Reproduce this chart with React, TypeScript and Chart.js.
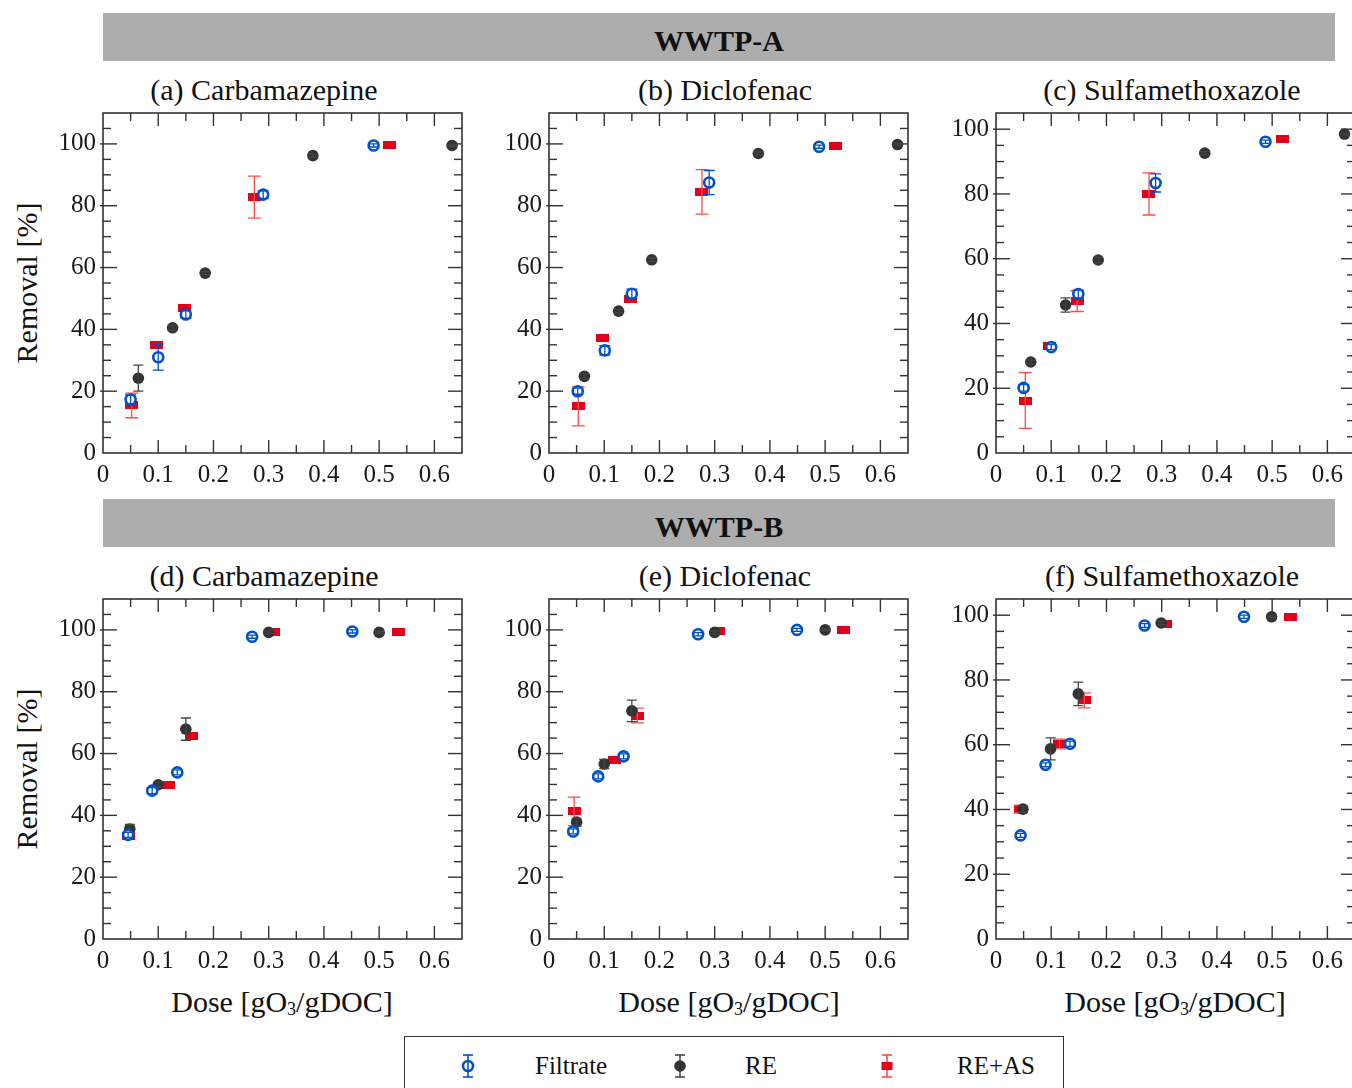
import React, { useEffect, useRef } from "react";
import { Chart, registerables } from "chart.js";
Chart.register(...registerables);

const SERIF = '"Liberation Serif", "Times New Roman", serif';

// ---------- ticks ----------
const xTickValues = [0, 0.1, 0.2, 0.3, 0.4, 0.5, 0.6];
const xMarkTicks = [0.05, 0.1, 0.15, 0.2, 0.25, 0.3, 0.35, 0.4, 0.45, 0.5, 0.55, 0.6];
const yTickValues = [0, 20, 40, 60, 80, 100];
const yMarkTicks = [5, 10, 15, 20, 25, 30, 35, 40, 45, 50, 55, 60, 65, 70, 75, 80, 85, 90, 95, 100, 105];

// ---------- data: [dose, removal, sd] ----------
// WWTP-A
const aCbzFiltrate = [[0.05, 17.3, 1.5], [0.1, 31.0, 4.2], [0.15, 44.8, 1.2], [0.29, 83.6, 1.2], [0.49, 99.5, 0.5]];
const aCbzRE = [[0.064, 24.2, 4.2], [0.126, 40.5, 0.8], [0.185, 58.2, 0.5], [0.38, 96.2, 0.5], [0.632, 99.5, 0.3]];
const aCbzREAS = [[0.052, 15.4, 4.0], [0.096, 35.1, 0], [0.148, 46.9, 0], [0.274, 82.8, 6.8], [0.519, 99.5, 0]];

const aDclFiltrate = [[0.052, 20.0, 1.0], [0.101, 33.2, 1.5], [0.15, 51.5, 1.5], [0.29, 87.5, 3.9], [0.489, 99.1, 0.5]];
const aDclRE = [[0.064, 24.8, 0.8], [0.126, 45.9, 0.5], [0.186, 62.5, 0.5], [0.379, 96.9, 0.5], [0.631, 99.8, 0.3]];
const aDclREAS = [[0.053, 15.1, 6.3], [0.096, 37.3, 0], [0.148, 49.7, 0], [0.277, 84.5, 7.2], [0.518, 99.4, 0]];

const aSmxFiltrate = [[0.05, 20.1, 1.0], [0.1, 32.7, 0.8], [0.149, 49.1, 1.2], [0.289, 83.4, 2.8], [0.488, 96.1, 0.5]];
const aSmxRE = [[0.063, 28.1, 0.6], [0.126, 45.7, 2.2], [0.185, 59.6, 0.8], [0.378, 92.6, 0.5], [0.631, 98.5, 0.3]];
const aSmxREAS = [[0.053, 16.2, 8.6], [0.096, 33.0, 0], [0.147, 46.9, 3.2], [0.277, 80.0, 6.5], [0.518, 96.9, 0]];

// WWTP-B
const bCbzFiltrate = [[0.0455, 33.7, 0.8], [0.089, 48.0, 1.0], [0.1345, 53.9, 0.8], [0.27, 97.8, 0.5], [0.4515, 99.5, 0.5]];
const bCbzRE = [[0.0485, 35.6, 1.5], [0.1, 49.9, 0.8], [0.15, 67.9, 3.6], [0.3, 99.2, 0.5], [0.5, 99.2, 0.3]];
const bCbzREAS = [[0.047, 33.2, 0], [0.118, 49.7, 0], [0.16, 65.7, 0], [0.308, 99.2, 0], [0.535, 99.2, 0]];

const bDclFiltrate = [[0.0438, 34.8, 0.8], [0.089, 52.6, 0.8], [0.135, 59.1, 0.8], [0.27, 98.6, 0.5], [0.449, 100.0, 0.5]];
const bDclRE = [[0.05, 37.8, 1.2], [0.1, 56.6, 1.5], [0.15, 73.8, 3.5], [0.3, 99.2, 0.5], [0.5, 100.0, 0.3]];
const bDclREAS = [[0.0456, 41.3, 4.6], [0.118, 58.0, 0], [0.16, 72.3, 2.4], [0.307, 99.5, 0], [0.533, 100.0, 0]];

const bSmxFiltrate = [[0.0445, 32.0, 0.6], [0.0897, 53.8, 0.6], [0.134, 60.3, 0.8], [0.269, 96.8, 0.6], [0.449, 99.5, 0.5]];
const bSmxRE = [[0.0487, 40.1, 1.0], [0.0988, 58.7, 3.4], [0.149, 75.7, 3.6], [0.299, 97.6, 0.5], [0.499, 99.5, 0.3]];
const bSmxREAS = [[0.044, 40.1, 1.2], [0.115, 60.2, 1.5], [0.16, 73.7, 2.3], [0.306, 97.4, 0], [0.534, 99.5, 0]];

const seriesNames = ["Filtrate", "RE", "RE+AS"];
const panelTitles = ["(a) Carbamazepine", "(b) Diclofenac", "(c) Sulfamethoxazole", "(d) Carbamazepine", "(e) Diclofenac", "(f) Sulfamethoxazole"];
const plantTitles = ["WWTP-A", "WWTP-B"];
const yMaxes = [110, 110, 105, 110, 110, 105];
const panelData = [
  [aCbzFiltrate, aCbzRE, aCbzREAS],
  [aDclFiltrate, aDclRE, aDclREAS],
  [aSmxFiltrate, aSmxRE, aSmxREAS],
  [bCbzFiltrate, bCbzRE, bCbzREAS],
  [bDclFiltrate, bDclRE, bDclREAS],
  [bSmxFiltrate, bSmxRE, bSmxREAS],
];

// ---------- layout ----------
const COL_LEFT = [103, 549.3, 996];
const ROW_TOP = [113, 599];
const PW = 359;
const PH = 340;
const PAD_L = 70, PAD_T = 10, PAD_R = 15, PAD_B = 45;

const BLUE = "#0052c6";
const DARK = "#333333";
const RED = "#e2001a";

function makeRect(w: number, h: number, color: string) {
  const c = document.createElement("canvas");
  c.width = w;
  c.height = h;
  const g = c.getContext("2d")!;
  g.fillStyle = color;
  g.fillRect(0, 0, w, h);
  return c;
}

const frameTicks = {
  id: "frameTicks",
  beforeDatasetsDraw(chart: any) {
    const { ctx, chartArea: a, scales } = chart;
    const x = scales.x, y = scales.y;
    ctx.save();
    ctx.strokeStyle = DARK;
    ctx.lineWidth = 1.4;
    const seg = (x1: number, y1: number, x2: number, y2: number) => {
      ctx.beginPath();
      ctx.moveTo(x1, y1);
      ctx.lineTo(x2, y2);
      ctx.stroke();
    };
    for (const v of xMarkTicks) {
      const px = x.getPixelForValue(v);
      const major = Math.abs(v * 10 - Math.round(v * 10)) < 1e-6;
      const len = major ? 13 : 8;
      seg(px, a.bottom, px, a.bottom - len);
      seg(px, a.top, px, a.top + len);
    }
    for (const v of yMarkTicks) {
      if (v >= y.max) continue;
      const py = y.getPixelForValue(v);
      const major = v % 20 === 0;
      const len = major ? 14 : 8;
      seg(a.left - (major ? 3 : 0), py, a.left + len, py);
      seg(a.right, py, a.right - len, py);
    }
    ctx.lineWidth = 1.6;
    ctx.strokeRect(a.left, a.top, a.width, a.height);
    ctx.restore();
  },
};

const errorBars = {
  id: "errorBars",
  afterDatasetDraw(chart: any, args: any) {
    const ds = chart.data.datasets[args.index];
    const y = chart.scales.y;
    const ctx = chart.ctx;
    ctx.save();
    ctx.strokeStyle = ds.errorColor;
    ctx.lineWidth = 1.3;
    args.meta.data.forEach((el: any, i: number) => {
      const d = ds.data[i];
      if (!d || !d.e) return;
      const px = el.x;
      const t = y.getPixelForValue(d.y + d.e);
      const b = y.getPixelForValue(d.y - d.e);
      const h = ds.capHalf;
      ctx.beginPath();
      ctx.moveTo(px, t);
      ctx.lineTo(px, b);
      ctx.moveTo(px - h, t);
      ctx.lineTo(px + h, t);
      ctx.moveTo(px - h, b);
      ctx.lineTo(px + h, b);
      ctx.stroke();
    });
    ctx.restore();
  },
};

function toPoints(arr: number[][]) {
  return arr.map((p) => ({ x: p[0], y: p[1], e: p[2] }));
}

function Panel({ idx }: { idx: number }) {
  const ref = useRef<HTMLCanvasElement>(null);
  const col = idx % 3;
  const row = Math.floor(idx / 3);
  const left = COL_LEFT[col] - PAD_L;
  const top = ROW_TOP[row] - PAD_T;
  const cw = PAD_L + PW + PAD_R;
  const ch = PAD_T + PH + PAD_B;

  useEffect(() => {
    const [filt, re, reas] = panelData[idx];
    const redRect = makeRect(13, 8, RED);
    const chart = new Chart(ref.current!, {
      type: "scatter",
      data: {
        datasets: [
          {
            label: seriesNames[0],
            data: toPoints(filt),
            pointStyle: "circle",
            pointRadius: 5,
            pointBorderWidth: 2.6,
            borderColor: BLUE,
            backgroundColor: "#ffffff",
            errorColor: BLUE,
            capHalf: 5.5,
          } as any,
          {
            label: seriesNames[1],
            data: toPoints(re),
            pointStyle: "circle",
            pointRadius: 5.8,
            pointBorderWidth: 0,
            borderColor: DARK,
            backgroundColor: DARK,
            errorColor: "#444444",
            capHalf: 5,
          } as any,
          {
            label: seriesNames[2],
            data: toPoints(reas),
            pointStyle: redRect,
            pointRadius: 6,
            borderColor: RED,
            backgroundColor: RED,
            errorColor: "#ff4a4a",
            capHalf: 6.5,
          } as any,
        ],
      },
      options: {
        responsive: false,
        animation: false,
        events: [],
        devicePixelRatio: 1,
        layout: { padding: { left: 0, top: PAD_T, right: PAD_R, bottom: 0 } },
        plugins: { legend: { display: false }, tooltip: { enabled: false } },
        scales: {
          x: {
            type: "linear",
            min: 0,
            max: 0.65,
            grid: { display: false, drawTicks: false },
            border: { display: false },
            afterBuildTicks: (s: any) => {
              s.ticks = xTickValues.map((v) => ({ value: v }));
            },
            afterFit: (s: any) => {
              s.height = PAD_B;
              s.paddingLeft = 0;
              s.paddingRight = 0;
            },
            ticks: {
              autoSkip: false,
              maxRotation: 0,
              padding: 7,
              color: "#1a1a1a",
              font: { family: SERIF, size: 25 },
              callback: (v: any) => String(v),
            },
          },
          y: {
            type: "linear",
            min: 0,
            max: yMaxes[idx],
            grid: { display: false, drawTicks: false },
            border: { display: false },
            afterBuildTicks: (s: any) => {
              s.ticks = yTickValues.map((v) => ({ value: v }));
            },
            afterFit: (s: any) => {
              s.width = PAD_L;
              s.paddingTop = 0;
              s.paddingBottom = 0;
            },
            ticks: {
              autoSkip: false,
              padding: 7,
              color: "#1a1a1a",
              font: { family: SERIF, size: 25 },
              callback: (v: any) => String(v),
            },
          },
        },
      } as any,
      plugins: [frameTicks, errorBars],
    });
    return () => chart.destroy();
  }, [idx]);

  return (
    <canvas
      ref={ref}
      width={cw}
      height={ch}
      style={{ position: "absolute", left, top, width: cw, height: ch }}
    />
  );
}

function LegendMarker({ kind }: { kind: number }) {
  const color = kind === 0 ? BLUE : kind === 1 ? DARK : RED;
  const bar = kind === 0 ? BLUE : kind === 1 ? "#444" : "#ff4a4a";
  return (
    <svg width={24} height={28} style={{ display: "block" }}>
      <line x1={12} y1={3} x2={12} y2={25} stroke={bar} strokeWidth={1.6} />
      <line x1={7} y1={3} x2={17} y2={3} stroke={bar} strokeWidth={1.6} />
      <line x1={7} y1={25} x2={17} y2={25} stroke={bar} strokeWidth={1.6} />
      {kind === 0 && <circle cx={12} cy={14} r={5} fill="#fff" stroke={color} strokeWidth={2.6} />}
      {kind === 0 && <line x1={12} y1={9} x2={12} y2={19} stroke={color} strokeWidth={1.6} />}
      {kind === 1 && <circle cx={12} cy={14} r={5.8} fill={color} />}
      {kind === 2 && <rect x={6.5} y={10} width={11} height={8} fill={color} />}
    </svg>
  );
}

export default function App() {
  const legendMarkX = [467.5, 680, 887];
  const legendTextX = [535, 745, 957];
  return (
    <div
      style={{
        position: "absolute",
        left: 0,
        top: 0,
        width: 1352,
        height: 1088,
        overflow: "hidden",
        background: "#ffffff",
        fontFamily: SERIF,
        color: "#111",
      }}
    >
      {plantTitles.map((t, r) => (
        <div
          key={t}
          style={{
            position: "absolute",
            left: 103,
            top: 13 + r * 486,
            width: 1232,
            height: 48,
            background: "#adadad",
          }}
        >
          <div
            style={{
              position: "absolute",
              left: 0,
              width: "100%",
              top: 10,
              height: 36,
              lineHeight: "36px",
              textAlign: "center",
              fontWeight: "bold",
              fontSize: 30,
              color: "#111",
            }}
          >
            {t}
          </div>
        </div>
      ))}
      {panelTitles.map((t, i) => {
        const cx = [264, 725, 1172][i % 3];
        const cy = [90, 576][Math.floor(i / 3)];
        return (
          <div
            key={t}
            style={{
              position: "absolute",
              left: cx - 200,
              width: 400,
              top: cy - 18,
              height: 36,
              lineHeight: "36px",
              textAlign: "center",
              fontSize: 30,
              whiteSpace: "nowrap",
            }}
          >
            {t}
          </div>
        );
      })}
      {[283, 769].map((cy) => (
        <div
          key={cy}
          style={{
            position: "absolute",
            left: 27 - 120,
            top: cy - 18,
            width: 240,
            height: 36,
            lineHeight: "36px",
            textAlign: "center",
            fontSize: 30,
            transform: "rotate(-90deg)",
            whiteSpace: "nowrap",
          }}
        >
          Removal [%]
        </div>
      ))}
      {[282, 729, 1175].map((cx) => (
        <div
          key={cx}
          style={{
            position: "absolute",
            left: cx - 150,
            top: 1002 - 18,
            width: 300,
            height: 36,
            lineHeight: "36px",
            textAlign: "center",
            fontSize: 30,
            whiteSpace: "nowrap",
          }}
        >
          Dose [gO<span style={{ fontSize: 18, verticalAlign: "-3px", lineHeight: 0 }}>3</span>/gDOC]
        </div>
      ))}
      {[0, 1, 2, 3, 4, 5].map((i) => (
        <Panel key={i} idx={i} />
      ))}
      <div
        style={{
          position: "absolute",
          left: 404,
          top: 1036,
          width: 660,
          height: 70,
          border: "1.5px solid #333",
          boxSizing: "border-box",
        }}
      />
      {seriesNames.map((n, k) => (
        <React.Fragment key={n}>
          <div style={{ position: "absolute", left: legendMarkX[k] - 12, top: 1066 - 14 }}>
            <LegendMarker kind={k} />
          </div>
          <div
            style={{
              position: "absolute",
              left: legendTextX[k],
              top: 1066 - 16,
              height: 32,
              lineHeight: "32px",
              fontSize: 25,
              whiteSpace: "nowrap",
            }}
          >
            {n}
          </div>
        </React.Fragment>
      ))}
    </div>
  );
}
